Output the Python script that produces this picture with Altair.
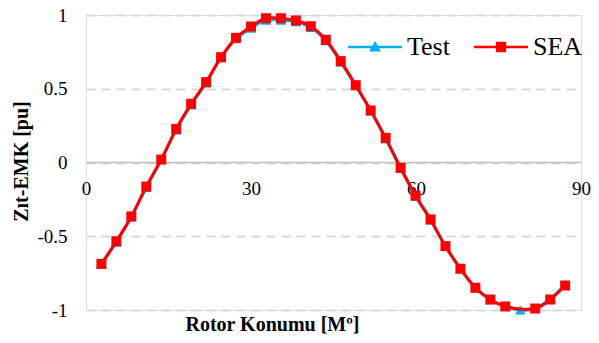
import altair as alt
import pandas as pd

# Rotor position [degrees] for each sample
angles = [2.8, 5.52, 8.24, 10.96, 13.68, 16.4, 19.12, 21.84, 24.56, 27.28,
          30.0, 32.72, 35.44, 38.16, 40.88, 43.6, 46.32, 49.04, 51.76, 54.48,
          57.2, 59.92, 62.64, 65.36, 68.08, 70.8, 73.52, 76.24, 78.96, 81.68,
          84.4, 87.12]

test_vals = [-0.69, -0.54, -0.37, -0.17, 0.02, 0.22, 0.39, 0.54, 0.71, 0.84,
             0.91, 0.965, 0.965, 0.955, 0.915, 0.825, 0.68, 0.52, 0.35, 0.16,
             -0.04, -0.23, -0.39, -0.57, -0.72, -0.85, -0.93, -0.975, -1.0, -0.99,
             -0.925, -0.825]

sea_vals = [-0.687, -0.534, -0.366, -0.163, 0.02, 0.228, 0.398, 0.545, 0.714, 0.845,
            0.922, 0.978, 0.978, 0.963, 0.924, 0.832, 0.687, 0.524, 0.353, 0.167,
            -0.036, -0.224, -0.386, -0.567, -0.72, -0.849, -0.929, -0.976, None, -0.99,
            -0.929, -0.834]

series_names = ["Test", "SEA"]
series_colors = ["#00b0f0", "#ff0000"]

rows = []
for a, v in zip(angles, test_vals):
    rows.append({"angle": a, "value": v, "series": "Test"})
for a, v in zip(angles, sea_vals):
    if v is not None:
        rows.append({"angle": a, "value": v, "series": "SEA"})
df = pd.DataFrame(rows)

FONT = "Liberation Serif"

x = alt.X("angle:Q",
          scale=alt.Scale(domain=[0, 90], nice=False, zero=False),
          axis=alt.Axis(values=[0, 30, 60, 90], offset=-148, ticks=False, grid=False,
                        domainColor="#bfbfbf", domainWidth=1.5, labelFlush=False,
                        labelFont=FONT, labelFontSize=19, labelColor="black",
                        labelPadding=17, title="Rotor Konumu [Mº]",
                        titleFont=FONT, titleFontSize=20, titleFontWeight="bold",
                        titleColor="black", titleX=186, titleY=162,
                        titleBaseline="middle", titleAlign="center"))
y = alt.Y("value:Q",
          scale=alt.Scale(domain=[-1, 1], nice=False),
          axis=alt.Axis(values=[-1, -0.5, 0, 0.5, 1], labelExpr="'' + datum.value",
                        domain=False, ticks=False, grid=True, gridColor="#d9d9d9",
                        gridWidth=2, gridDash=[9, 6], labelFont=FONT, labelFontSize=19,
                        labelColor="black", labelPadding=19, title="Zıt-EMK [pu]",
                        titleFont=FONT, titleFontSize=20, titleFontWeight="bold",
                        titleColor="black", titleX=-65, titleY=146, titleAngle=270,
                        titleBaseline="middle", titleAlign="center"))

base = alt.Chart(df)

test_line = base.transform_filter("datum.series === 'Test'").mark_line(
    color=series_colors[0], strokeWidth=3, interpolate="catmull-rom").encode(x=x, y=y)
test_pts = base.transform_filter("datum.series === 'Test'").mark_point(
    shape="triangle-up", filled=True, size=110, color=series_colors[0], opacity=1).encode(x=x, y=y)
sea_line = base.transform_filter("datum.series === 'SEA'").mark_line(
    color=series_colors[1], strokeWidth=3, interpolate="catmull-rom").encode(x=x, y=y)
sea_pts = base.transform_filter("datum.series === 'SEA'").mark_point(
    shape="square", filled=True, size=100, color=series_colors[1], opacity=1).encode(x=x, y=y)

tri_path = "M-1,-0.05L1,-0.05L1,0.05L-1,0.05Z M-0.22,0.17L0,-0.22L0.22,0.17Z"
sq_path = "M-1,-0.05L1,-0.05L1,0.05L-1,0.05Z M-0.19,-0.19L0.19,-0.19L0.19,0.19L-0.19,0.19Z"

leg = alt.Legend(title=None, orient="none", legendX=262, legendY=5, direction="horizontal",
                 labelFont=FONT, labelFontSize=26, labelColor="black", labelOffset=5,
                 columnPadding=24, symbolSize=2916, symbolStrokeWidth=0, padding=0)

legend_layer = base.transform_filter("false").mark_point(
    filled=True, opacity=1, size=2916).encode(
    x=x, y=y,
    color=alt.Color("series:N", scale=alt.Scale(domain=series_names, range=series_colors), legend=leg),
    shape=alt.Shape("series:N", scale=alt.Scale(domain=series_names, range=[tri_path, sq_path]), legend=leg),
)

chart = alt.layer(test_line, test_pts, sea_line, sea_pts, legend_layer).properties(
    width=495, height=295,
    autosize=alt.AutoSizeParams(type="none"),
    padding={"left": 78, "top": 7, "right": 10, "bottom": 25},
).configure_view(stroke=None).configure(font=FONT, background="white")

chart.save("out.html", embed_options={"renderer": "svg", "actions": False})
